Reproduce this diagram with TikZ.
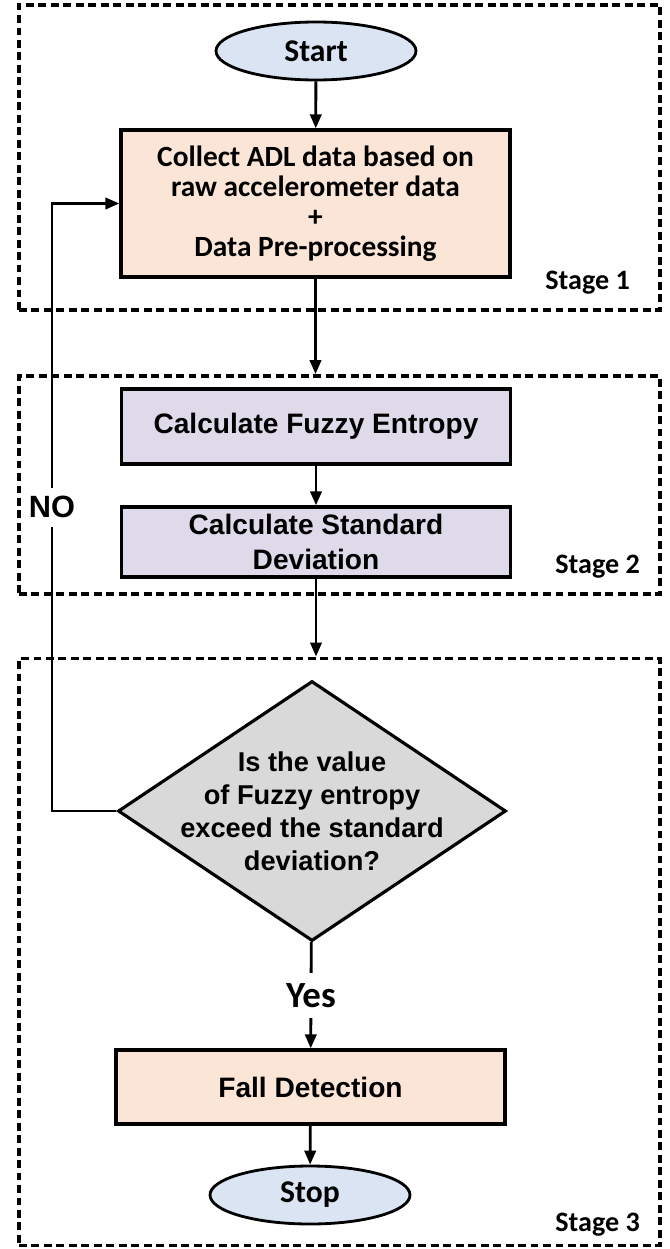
\documentclass[tikz,border=0pt]{standalone}
\usepackage{fontspec}
\setmainfont{Liberation Sans}
\newfontfamily\calibri{Carlito}
\usepackage{xcolor}
\usetikzlibrary{shapes.geometric,arrows.meta}
\definecolor{peach}{RGB}{251,229,214}
\definecolor{lavender}{RGB}{222,218,234}
\definecolor{decgrey}{RGB}{217,217,217}
\definecolor{termblue}{RGB}{218,228,242}
\tikzset{
  stagebox/.style={draw,line width=2.2pt,dash pattern=on 4.5pt off 2.6pt,
    minimum width=12.82cm,inner sep=0pt},
  stagelabel/.style={anchor=east,font=\calibri\bfseries\fontsize{16}{18}\selectfont},
  process/.style={draw,line width=1.9pt,minimum width=7.78cm,align=center,
    font=\bfseries\fontsize{16}{20}\selectfont},
  terminal/.style={draw,ellipse,line width=1.6pt,fill=termblue,minimum width=4cm,
    minimum height=1.16cm,font=\calibri\bfseries\fontsize{18}{20}\selectfont},
  decision/.style={draw,diamond,line width=1.8pt,fill=decgrey,minimum width=7.76cm,
    minimum height=5.2cm,inner sep=0pt},
  arr/.style={line width=1.6pt,-{Triangle[length=8pt,width=6.5pt]}},
  gap/.style={fill=white,inner sep=2pt}
}
\begin{document}
\begin{tikzpicture}
  \useasboundingbox (0,0) rectangle (13.4,-24.98);
  % stage frames
  \node[stagebox,minimum height=6.1cm] (stage1) at (6.79,-3.15) {};
  \node[stagebox,minimum height=4.36cm] (stage2) at (6.79,-9.7) {};
  \node[stagebox,minimum height=11.74cm] (stage3) at (6.79,-19.04) {};
  \node[stagelabel] (lab1) at (12.72,-5.66) {Stage 1};
  \node[stagelabel] (lab2) at (12.92,-11.34) {Stage 2};
  \node[stagelabel] (lab3) at (12.92,-24.5) {Stage 3};
  % stage 1
  \node[terminal] (start) at (6.32,-1.02) {Start};
  \node[process,fill=peach,minimum height=2.94cm,
    font=\calibri\bfseries\fontsize{16.7}{17}\selectfont] (collect) at (6.31,-4.07)
    {Collect ADL data based on\\raw accelerometer data\\+\\Data Pre-processing};
  % stage 2
  \node[process,fill=lavender,minimum height=1.5cm] (fuzzy) at (6.32,-8.53)
    {Calculate Fuzzy Entropy};
  \node[process,fill=lavender,minimum height=1.4cm] (stdev) at (6.32,-10.84)
    {Calculate Standard\\Deviation};
  % stage 3
  \node[decision,label={[align=center,font=\bfseries\fontsize{15.5}{18.8}\selectfont]
    center:Is the value\\of Fuzzy entropy\\exceed the standard\\deviation?}]
    (decide) at (6.24,-16.22) {};
  \node[process,fill=peach,minimum height=1.48cm] (fall) at (6.21,-21.74)
    {Fall Detection};
  \node[terminal] (stop) at (6.2,-23.9) {Stop};
  % loop back
  \coordinate (loopbot) at (1.04,-16.22);
  \coordinate (looptop) at (1.04,-4.07);

  \draw[arr] (start) -- (collect);
  \draw[arr] (collect) -- (collect |- stage2.north);
  \draw[arr] (fuzzy) -- (stdev);
  \draw[arr] (stdev) -- (stdev |- stage3.north);
  \draw[arr] (decide) -- node[gap,inner ysep=6pt,
    font=\calibri\bfseries\fontsize{21}{23}\selectfont]{Yes} (fall);
  \draw[arr] (fall) -- (stop);
  \draw[arr] (decide.west) -- (loopbot)
    -- node[gap,inner ysep=5pt,font=\bfseries\fontsize{17.5}{19}\selectfont]{NO} (looptop)
    -- (collect.west);
\end{tikzpicture}
\end{document}
